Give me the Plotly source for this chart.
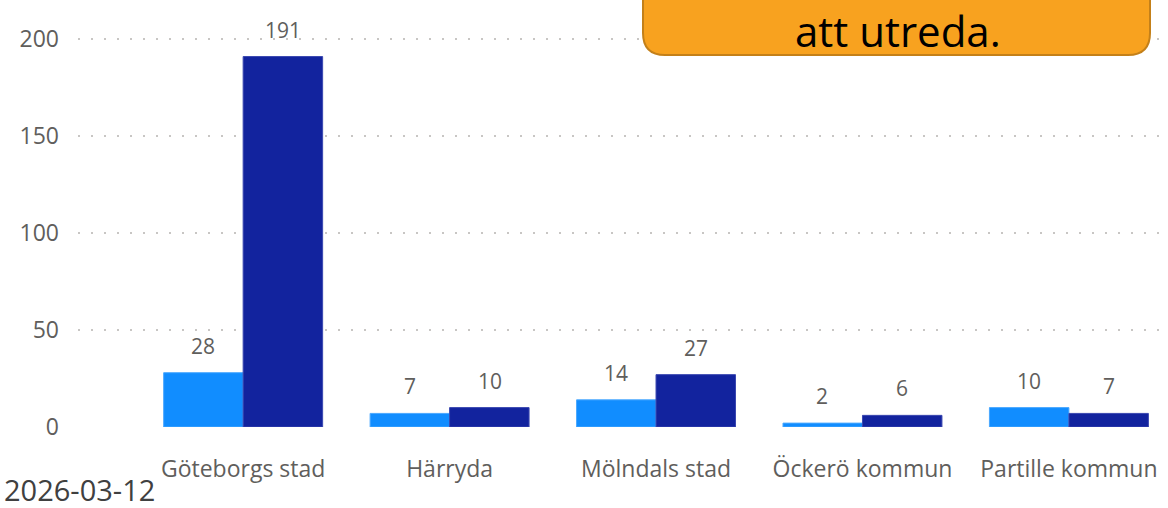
import plotly.graph_objects as go

kommuner = ["Göteborgs stad", "Härryda", "Mölndals stad", "Öckerö kommun", "Partille kommun"]
serie_ljus = [28, 7, 14, 2, 10]
serie_mork = [191, 10, 27, 6, 7]
y_ticks = [0, 50, 100, 150, 200]

FONT = "Open Sans, Noto Sans, sans-serif"
GRA = "#605E5C"

# plot area in pixels
L, R, T, B = 78, 0, 10, 81
W, H = 1168, 508
PW, PH = W - L - R, H - T - B


def px(x, y):
    return (x - L) / PW, (H - B - y) / PH


fig = go.Figure()

fig.add_trace(go.Bar(x=kommuner, y=serie_ljus, marker_color="#118DFF",
                     marker_line=dict(color="#4AA8FF", width=1)))
fig.add_trace(go.Bar(x=kommuner, y=serie_mork, marker_color="#12239E",
                     marker_line=dict(color="#3A47B0", width=1)))

# value labels above each bar
for i, k in enumerate(kommuner):
    for v, dx in ((serie_ljus[i], -40), (serie_mork[i], 40)):
        fig.add_annotation(x=k, y=v, text=str(v), showarrow=False,
                           xshift=dx, yshift=27, yanchor="middle",
                           font=dict(size=21, color=GRA, family=FONT))

# orange callout box with rounded bottom corners
x0, x1, y0, y1, r = 643, 1150, -20, 55, 22
pts = [
    ("M", x0, y0), ("L", x0, y1 - r), ("Q", x0, y1, x0 + r, y1),
    ("L", x1 - r, y1), ("Q", x1, y1, x1, y1 - r), ("L", x1, y0),
]
path = ""
for p in pts:
    if p[0] == "Q":
        a, b = px(p[1], p[2])
        c, d = px(p[3], p[4])
        path += f"Q{a},{b} {c},{d} "
    else:
        a, b = px(p[1], p[2])
        path += f"{p[0]}{a},{b} "
path += "Z"

fig.add_shape(type="path", path=path, xref="paper", yref="paper",
              fillcolor="#F8A21F", line=dict(color="#C48019", width=2))

bx, by = px(898, 30)
fig.add_annotation(text="att utreda.", x=bx, y=by, xref="paper", yref="paper",
                   xanchor="center", yanchor="middle", showarrow=False,
                   font=dict(size=42, color="#000000", family=FONT))

dx, dy = px(2, 489)
fig.add_annotation(text="2026-03-12", x=dx, y=dy, xref="paper", yref="paper",
                   xanchor="left", yanchor="middle", showarrow=False,
                   font=dict(size=29, color="#404040", family=FONT))

fig.update_layout(
    width=W, height=H,
    template="plotly_white",
    plot_bgcolor="white", paper_bgcolor="white",
    margin=dict(l=L, r=R, t=T, b=B),
    barmode="group", bargap=0.23, bargroupgap=0,
    showlegend=False,
    font=dict(family=FONT, color=GRA, size=18),
)

fig.update_xaxes(
    range=[-0.8, 4.48], showgrid=False, showline=False, zeroline=False,
    ticks="", ticklabelstandoff=26,
    tickfont=dict(size=23, color=GRA, family=FONT)
)
fig.update_yaxes(
    range=[0, 215], tickvals=y_ticks, showgrid=True,
    gridcolor="#C8C6C4", griddash="2px,11px", gridwidth=2,
    zeroline=False, showline=False, ticks="", ticklabelstandoff=18,
    tickfont=dict(size=23, color=GRA, family=FONT)
)

fig.write_html("out.html", config={"displayModeBar": False},
               post_script="document.body.style.margin='0';")
